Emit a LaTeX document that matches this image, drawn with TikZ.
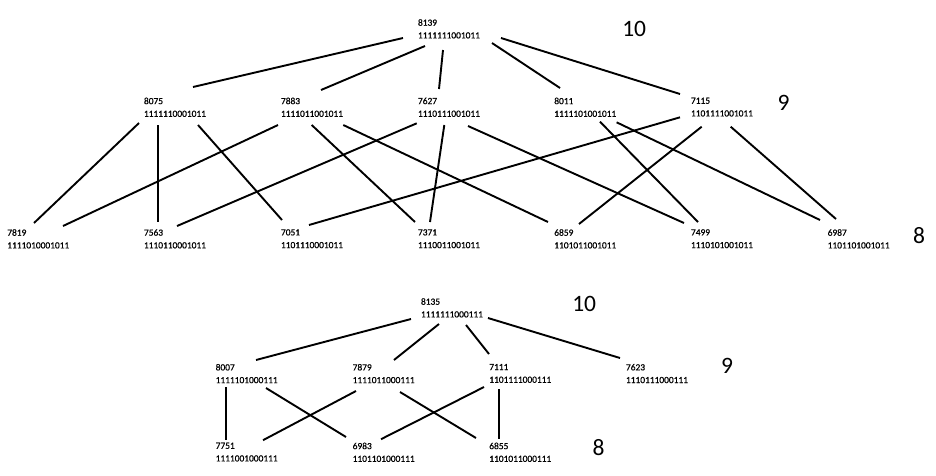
\documentclass[tikz,border=0pt]{standalone}
\usepackage{fontspec}
\setmainfont{Carlito}
\newfontfamily\vtxfont[RawFeature={embolden=0.7}]{Carlito}
\begin{document}
\begin{tikzpicture}[x=1pt,y=-1pt,
  vtx/.style={inner sep=0pt, outer sep=0pt, anchor=north west, align=left,
    font=\vtxfont\fontsize{9.4}{12.7}\selectfont},
  lvl/.style={inner sep=0pt, outer sep=0pt, anchor=north west,
    font=\fontsize{23.5}{26}\selectfont},
  edge/.style={line width=1.9pt, black}]
\useasboundingbox (0,0) rectangle (936,475);
\newcommand{\E}[4]{\draw[edge] ([shift={#2}]#1.north west) -- ([shift={#4}]#3.north west);}
% ---- upper lattice ----
\node[vtx] (n8139) at (418,19.3) {8139\\1111111001011};
\node[vtx] (n8075) at (144,97.7) {8075\\1111110001011};
\node[vtx] (n7883) at (281,97.7) {7883\\1111011001011};
\node[vtx] (n7627) at (418,97.7) {7627\\1110111001011};
\node[vtx] (n8011) at (554.3,97.7) {8011\\1111101001011};
\node[vtx] (n7115) at (691,97.7) {7115\\1101111001011};
\node[vtx] (n7819) at (7.3,229.3) {7819\\1111010001011};
\node[vtx] (n7563) at (144,229.3) {7563\\1110110001011};
\node[vtx] (n7051) at (281,229.3) {7051\\1101110001011};
\node[vtx] (n7371) at (418,229.3) {7371\\1110011001011};
\node[vtx] (n6859) at (554.3,229.3) {6859\\1101011001011};
\node[vtx] (n7499) at (691,229.3) {7499\\1110101001011};
\node[vtx] (n6987) at (827.7,229.3) {6987\\1101101001011};
\node[lvl] (l10a) at (622.3,21.5) {10};
\node[lvl] (l9a) at (777.7,95.5) {9};
\node[lvl] (l8a) at (913,227.5) {8};
\E{n8139}{(-15,18.7)}{n8075}{(49,-10.7)}
\E{n8139}{(7,26.7)}{n7883}{(40,-7.7)}
\E{n8139}{(25,30.7)}{n7627}{(21,-8.7)}
\E{n8139}{(74,23.7)}{n8011}{(5.7,-9.7)}
\E{n8139}{(83,18.7)}{n7115}{(-11,-3.7)}
\E{n8075}{(-5,25.3)}{n7819}{(26.7,-6.3)}
\E{n8075}{(14.3,27.3)}{n7563}{(14.3,-7.3)}
\E{n8075}{(54,27.3)}{n7051}{(1,-9.3)}
\E{n7883}{(-3,27.3)}{n7819}{(55.7,-3.3)}
\E{n7883}{(30.7,27.3)}{n7371}{(-3,-7.3)}
\E{n7883}{(62.3,27.3)}{n6859}{(-6.3,-7.3)}
\E{n7627}{(-1.3,25.6)}{n7563}{(33,-3.3)}
\E{n7627}{(26.3,27.3)}{n7371}{(12,-7.3)}
\E{n7627}{(50,28.3)}{n7499}{(-7,-6.3)}
\E{n8011}{(45.7,24)}{n7499}{(7,-7.3)}
\E{n8011}{(62.3,24.6)}{n6987}{(-7.7,-9.3)}
\E{n7115}{(-11,19.6)}{n7051}{(28,-4.3)}
\E{n7115}{(10.7,29)}{n6859}{(24.7,-5.3)}
\E{n7115}{(39.7,29)}{n6987}{(8.3,-10.3)}
% ---- lower lattice ----
\node[vtx] (n8135) at (421,298.3) {8135\\1111111000111};
\node[vtx] (n8007) at (215.7,364) {8007\\1111101000111};
\node[vtx] (n7879) at (352.7,364) {7879\\1111011000111};
\node[vtx] (n7111) at (489.3,364) {7111\\1101111000111};
\node[vtx] (n7623) at (626,364) {7623\\1110111000111};
\node[vtx] (n7751) at (215.7,442.7) {7751\\1111001000111};
\node[vtx] (n6983) at (352.7,442.7) {6983\\1101101000111};
\node[vtx] (n6855) at (489.3,442.7) {6855\\1101011000111};
\node[lvl] (l10b) at (572.3,296) {10};
\node[lvl] (l9b) at (721,358) {9};
\node[lvl] (l8b) at (592.7,439.7) {8};
\E{n8135}{(-10,20.7)}{n8007}{(40.3,-4)}
\E{n8135}{(18,25.7)}{n7879}{(41.3,-4)}
\E{n8135}{(45,26.7)}{n7111}{(-0.3,-10)}
\E{n8135}{(67,19.7)}{n7623}{(-6,-6)}
\E{n8007}{(10.3,23)}{n7751}{(10.3,-3)}
\E{n8007}{(50.3,24)}{n6983}{(-6.7,-5.7)}
\E{n7879}{(3.3,27)}{n7751}{(47.3,-2.5)}
\E{n7879}{(47.3,28)}{n6855}{(-13.3,-4.7)}
\E{n7111}{(-5.3,23)}{n6983}{(28.3,-3.5)}
\E{n7111}{(9.7,25)}{n6855}{(9.7,-3.5)}
\end{tikzpicture}
\end{document}
